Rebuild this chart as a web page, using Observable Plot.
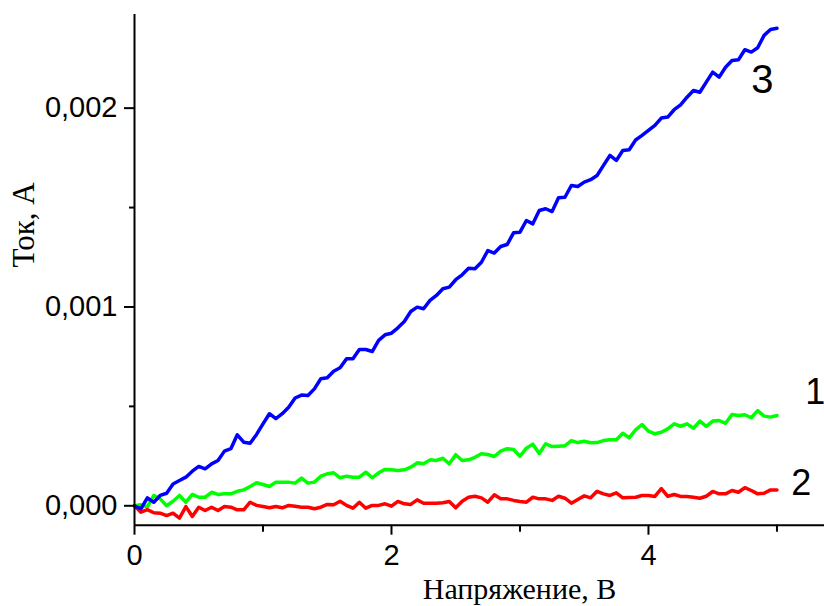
<!DOCTYPE html>
<html>
<head>
<meta charset="utf-8">
<script src="https://cdn.jsdelivr.net/npm/d3@7"></script>
<script src="https://cdn.jsdelivr.net/npm/@observablehq/plot@0.6"></script>
<style>
  html, body { margin: 0; padding: 0; background: #fff; }
  #chart { width: 824px; height: 606px; overflow: hidden; }
</style>
</head>
<body>
<div id="chart"></div>
<script>
// Voltage (В)
const voltage = [
  0, 0.05, 0.1, 0.15, 0.2, 0.25, 0.3, 0.35, 0.4, 0.45,
  0.5, 0.55, 0.6, 0.65, 0.7, 0.75, 0.8, 0.85, 0.9, 0.95,
  1, 1.05, 1.1, 1.15, 1.2, 1.25, 1.3, 1.35, 1.4, 1.45,
  1.5, 1.55, 1.6, 1.65, 1.7, 1.75, 1.8, 1.85, 1.9, 1.95,
  2, 2.05, 2.1, 2.15, 2.2, 2.25, 2.3, 2.35, 2.4, 2.45,
  2.5, 2.55, 2.6, 2.65, 2.7, 2.75, 2.8, 2.85, 2.9, 2.95,
  3, 3.05, 3.1, 3.15, 3.2, 3.25, 3.3, 3.35, 3.4, 3.45,
  3.5, 3.55, 3.6, 3.65, 3.7, 3.75, 3.8, 3.85, 3.9, 3.95,
  4, 4.05, 4.1, 4.15, 4.2, 4.25, 4.3, 4.35, 4.4, 4.45,
  4.5, 4.55, 4.6, 4.65, 4.7, 4.75, 4.8, 4.85, 4.9, 4.95,
  5
];

// Current, mA (curve 1 — green)
const current1_mA = [
  0, 0.005, -0.005, 0.052, 0.035, 0, 0.023, 0.052, 0.018, 0.057,
  0.043, 0.043, 0.068, 0.057, 0.06, 0.06, 0.073, 0.08, 0.097, 0.116,
  0.107, 0.097, 0.119, 0.119, 0.119, 0.114, 0.139, 0.114, 0.119, 0.149,
  0.161, 0.166, 0.141, 0.149, 0.144, 0.144, 0.169, 0.141, 0.166, 0.183,
  0.181, 0.178, 0.181, 0.194, 0.216, 0.211, 0.231, 0.228, 0.239, 0.211,
  0.257, 0.228, 0.231, 0.244, 0.262, 0.258, 0.248, 0.275, 0.287, 0.283,
  0.249, 0.29, 0.31, 0.263, 0.312, 0.298, 0.3, 0.302, 0.328, 0.318,
  0.325, 0.317, 0.318, 0.328, 0.332, 0.332, 0.365, 0.342, 0.382, 0.409,
  0.375, 0.362, 0.37, 0.387, 0.412, 0.4, 0.412, 0.39, 0.426, 0.4,
  0.426, 0.429, 0.415, 0.459, 0.454, 0.458, 0.443, 0.479, 0.451, 0.446,
  0.454
];

// Current, mA (curve 2 — red)
const current2_mA = [
  0, -0.032, -0.019, -0.035, -0.037, -0.049, -0.037, -0.062, -0.004, -0.054,
  -0.007, -0.024, -0.007, -0.024, -0.004, -0.007, -0.02, -0.02, 0.018, 0.002,
  -0.004, -0.01, -0.004, -0.01, 0.002, -0.002, -0.007, -0.007, -0.015, -0.007,
  0.007, 0.005, 0.023, 0.002, -0.012, 0.018, -0.012, 0.002, 0.002, 0.01,
  -0.002, 0.022, 0.01, 0.007, 0.03, 0.013, 0.013, 0.013, 0.015, 0.022,
  -0.01, 0.023, 0.043, 0.048, 0.04, 0.018, 0.055, 0.035, 0.035, 0.027,
  0.022, 0.018, 0.043, 0.035, 0.035, 0.027, 0.048, 0.038, 0.013, 0.032,
  0.05, 0.04, 0.073, 0.06, 0.052, 0.065, 0.04, 0.042, 0.043, 0.052,
  0.052, 0.047, 0.086, 0.048, 0.057, 0.047, 0.047, 0.043, 0.038, 0.048,
  0.072, 0.06, 0.06, 0.077, 0.068, 0.091, 0.077, 0.06, 0.063, 0.08,
  0.08
];

// Current, mA (curve 3 — blue)
const current3_mA = [
  0, -0.015, 0.04, 0.018, 0.052, 0.063, 0.11, 0.127, 0.144, 0.174,
  0.198, 0.186, 0.211, 0.228, 0.275, 0.287, 0.357, 0.32, 0.315, 0.359,
  0.412, 0.463, 0.438, 0.463, 0.496, 0.542, 0.557, 0.555, 0.588, 0.639,
  0.644, 0.677, 0.694, 0.739, 0.739, 0.786, 0.786, 0.776, 0.832, 0.86,
  0.868, 0.895, 0.927, 0.977, 0.999, 0.991, 1.033, 1.058, 1.092, 1.1,
  1.137, 1.162, 1.195, 1.192, 1.225, 1.284, 1.271, 1.304, 1.314, 1.373,
  1.376, 1.435, 1.418, 1.485, 1.494, 1.48, 1.549, 1.552, 1.611, 1.606,
  1.628, 1.64, 1.661, 1.712, 1.762, 1.737, 1.787, 1.791, 1.84, 1.863,
  1.888, 1.913, 1.95, 1.955, 1.992, 2.017, 2.055, 2.089, 2.08, 2.131,
  2.181, 2.156, 2.206, 2.24, 2.243, 2.294, 2.282, 2.304, 2.366, 2.396,
  2.402
];

const xTicks = [0, 2, 4];
const xTickLabels = ["0", "2", "4"];
const xMinorTicks = [1, 3, 5];
const yTicks = [0, 0.001, 0.002];
const yTickLabels = ["0,000", "0,001", "0,002"];
const yMinorTicks = [0.0005, 0.0015];

const xTitle = "Напряжение, В";
const yTitle = "Ток, А";

// curve number labels: text, voltage, current (A)
const curveLabelText = ["1", "2", "3"];
const curveLabelV = [5.22, 5.19, 4.887];
const curveLabelI = [0.00057, 0.00011, 0.00214];

const xDomain = [0, 5.37];
const yDomain = [-0.0000976, 0.002471];

const toRows = (arr) => voltage.map((v, k) => ({v, i: arr[k] / 1000}));

const sans = "'Liberation Sans', Arial, Helvetica, sans-serif";
const serif = "'Liberation Serif', 'Times New Roman', Times, serif";

const chart = Plot.plot({
  width: 824,
  height: 606,
  marginLeft: 134,
  marginRight: 0,
  marginTop: 14,
  marginBottom: 81.3,
  x: {domain: xDomain, axis: null},
  y: {domain: yDomain, axis: null},
  style: {fontFamily: sans, fontSize: "29px", color: "black", background: "white"},
  marks: [
    Plot.line(toRows(current1_mA), {x: "v", y: "i", stroke: "#00ff00", strokeWidth: 3.5, strokeLinejoin: "round"}),
    Plot.line(toRows(current2_mA), {x: "v", y: "i", stroke: "#ff0000", strokeWidth: 3.5, strokeLinejoin: "round"}),
    Plot.line(toRows(current3_mA), {x: "v", y: "i", stroke: "#0000ff", strokeWidth: 3.5, strokeLinejoin: "round"}),
    Plot.ruleX([xDomain[0]], {stroke: "black", strokeWidth: 2}),
    Plot.ruleY([yDomain[0]], {stroke: "black", strokeWidth: 2}),
    Plot.axisX({ticks: xTicks, tickSize: 10, tickPadding: 9, strokeWidth: 2, fontSize: 29,
      tickFormat: d => xTickLabels[xTicks.indexOf(d)], label: null}),
    Plot.axisX({ticks: xMinorTicks, tickSize: 7, tickPadding: 0, strokeWidth: 2,
      tickFormat: () => "", label: null}),
    Plot.axisY({ticks: yTicks, tickSize: 10, tickPadding: 7, strokeWidth: 2, fontSize: 29,
      tickFormat: d => yTickLabels[yTicks.indexOf(d)], label: null}),
    Plot.axisY({ticks: yMinorTicks, tickSize: 5, tickPadding: 0, strokeWidth: 2,
      tickFormat: () => "", label: null}),
    Plot.text([xTitle], {frameAnchor: "bottom", text: d => d, dx: 40, dy: 73.5,
      textAnchor: "middle", lineAnchor: "bottom", fontFamily: serif, fontSize: 30, fill: "black"}),
    Plot.text([yTitle], {frameAnchor: "left", text: d => d, rotate: -90, dx: -100.7, dy: -45,
      textAnchor: "middle", lineAnchor: "bottom", fontFamily: serif, fontSize: 31, fill: "black"}),
    Plot.text([0], {x: curveLabelV[0], y: curveLabelI[0], text: () => curveLabelText[0],
      textAnchor: "start", fontSize: 36, fontFamily: sans, fill: "black"}),
    Plot.text([1], {x: curveLabelV[1], y: curveLabelI[1], text: () => curveLabelText[1],
      textAnchor: "middle", fontSize: 36, fontFamily: sans, fill: "black"}),
    Plot.text([2], {x: curveLabelV[2], y: curveLabelI[2], text: () => curveLabelText[2],
      textAnchor: "middle", fontSize: 40, fontFamily: sans, fill: "black"})
  ]
});
document.getElementById("chart").appendChild(chart);
</script>
</body>
</html>
